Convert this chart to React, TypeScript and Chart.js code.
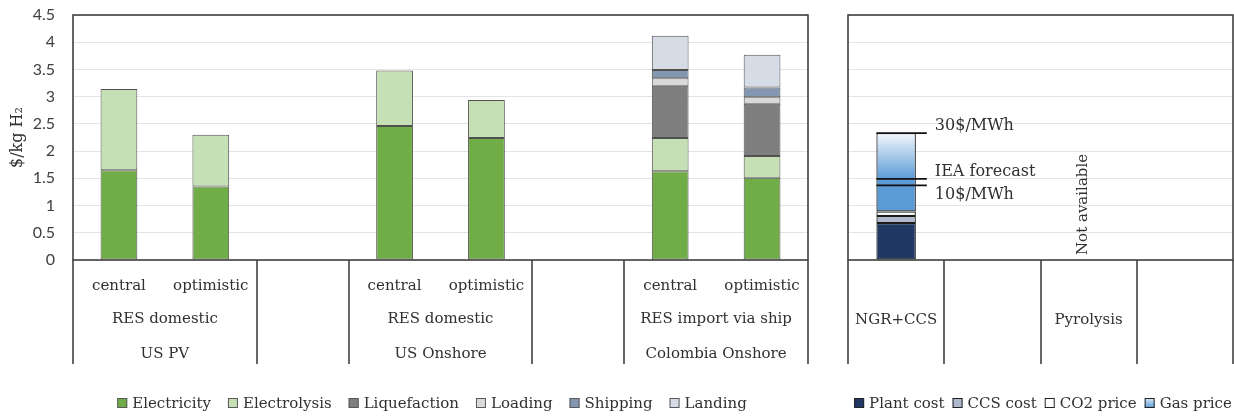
import React, { useEffect, useRef } from "react";
import { Chart, registerables } from "chart.js";

Chart.register(...registerables);

const SERIF = "'DejaVu Serif', 'Liberation Serif', serif";
const SANS = "Lato, 'Liberation Sans', sans-serif";
const TEXT = "#303030";
const FRAME = "#404040";
const GRID = "#e4e4e4";

// ---------- shared value axis ----------
const yMin = 0;
const yMax = 4.5;
const yStep = 0.5;
const yTitle = "$/kg H₂";

// ---------- left panel: electrolysis pathways ----------
const scenarios = ["central", "optimistic", "", "central", "optimistic", "", "central", "optimistic"];
const pathwayLabels = ["RES domestic", "RES domestic", "RES import via ship"];
const regionLabels = ["US PV", "US Onshore", "Colombia Onshore"];
const groupFirstSlot = [0, 3, 6];
const groupSpan = 2;
const leftDividerSlots = [0, 2, 3, 5, 6, 8];

const electricity = [1.65, 1.35, null, 2.46, 2.24, null, 1.63, 1.51];
const electrolysis = [1.49, 0.95, null, 1.02, 0.7, null, 0.61, 0.4];
const liquefaction = [null, null, null, null, null, null, 0.96, 0.96];
const loading = [null, null, null, null, null, null, 0.14, 0.12];
const shipping = [null, null, null, null, null, null, 0.15, 0.18];
const landing = [null, null, null, null, null, null, 0.63, 0.6];

const leftSeriesNames = ["Electricity", "Electrolysis", "Liquefaction", "Loading", "Shipping", "Landing"];
const leftColors = ["#70ad47", "#c5e0b4", "#7f7f7f", "#d9d9d9", "#8497b0", "#d6dce5"];

// ---------- right panel: fossil-based pathways ----------
const technologies = ["NGR+CCS", "", "Pyrolysis", ""];
const plantCost = [0.68, null, null, null];
const ccsCost = [0.13, null, null, null];
const co2Price = [0.08, null, null, null];
const gasPrice = [1.44, null, null, null];
const rightSeriesNames = ["Plant cost", "CCS cost", "CO2 price", "Gas price"];
const rightColors = ["#1f3864", "#adb9ca", "#ffffff", "#5b9bd5"];
const gasLight = "#f4f8fd";
const gasScenarioValues = [2.33, 1.49, 1.37];
const gasScenarioLabels = ["30$/MWh", "IEA forecast", "10$/MWh"];
const gasScenarioSide = [-1, -1, 1];
const unavailableIndex = 2;
const unavailableText = "Not available";

type LegendItem = { text: string; fill: string | "gradient"; stroke: string };

function drawLegend(ctx: CanvasRenderingContext2D, items: LegendItem[], cx: number, cy: number, gapItem: number) {
  ctx.save();
  ctx.font = `15px ${SERIF}`;
  const box = 10;
  const gapBox = 5;
  const widths = items.map((it) => box + gapBox + ctx.measureText(it.text).width);
  const total = widths.reduce((a, b) => a + b, 0) + gapItem * (items.length - 1);
  let x = cx - total / 2;
  items.forEach((it, i) => {
    const top = cy - box / 2;
    if (it.fill === "gradient") {
      const g = ctx.createLinearGradient(0, top, 0, top + box);
      g.addColorStop(0, "#dce9f7");
      g.addColorStop(1, rightColors[3]);
      ctx.fillStyle = g;
    } else {
      ctx.fillStyle = it.fill;
    }
    ctx.fillRect(x, top, box, box);
    ctx.strokeStyle = it.stroke;
    ctx.lineWidth = 1;
    ctx.strokeRect(x + 0.5, top + 0.5, box - 1, box - 1);
    ctx.fillStyle = TEXT;
    ctx.textAlign = "left";
    ctx.textBaseline = "middle";
    ctx.fillText(it.text, x + box + gapBox, cy + 1);
    x += widths[i] + gapItem;
  });
  ctx.restore();
}

function drawFrame(ctx: CanvasRenderingContext2D, a: any) {
  ctx.strokeStyle = FRAME;
  ctx.lineWidth = 1.6;
  ctx.strokeRect(a.left, a.top, a.right - a.left, a.bottom - a.top);
}

function vline(ctx: CanvasRenderingContext2D, x: number, y0: number, y1: number) {
  ctx.beginPath();
  ctx.moveTo(x, y0);
  ctx.lineTo(x, y1);
  ctx.stroke();
}

const zeroPadding = (s: any) => {
  s.paddingLeft = 0;
  s.paddingRight = 0;
  s.paddingTop = 0;
  s.paddingBottom = 0;
};

const leftPlugin = {
  id: "leftPanel",
  afterDraw(chart: any) {
    const { ctx, chartArea: a, scales } = chart;
    const x = scales.x;
    const slot = (a.right - a.left) / scenarios.length;
    ctx.save();
    drawFrame(ctx, a);
    ctx.lineWidth = 1.6;
    leftDividerSlots.forEach((s) => vline(ctx, Math.round(x.getPixelForValue(0) - slot / 2 + s * slot), a.bottom, a.bottom + 104));
    ctx.font = `15px ${SERIF}`;
    ctx.fillStyle = TEXT;
    ctx.textAlign = "center";
    ctx.textBaseline = "middle";
    groupFirstSlot.forEach((s, i) => {
      const cx = x.getPixelForValue(s) - slot / 2 + (groupSpan / 2) * slot;
      ctx.fillText(pathwayLabels[i], cx, a.bottom + 59);
      ctx.fillText(regionLabels[i], cx, a.bottom + 94);
    });
    ctx.restore();
    const items = chart.data.datasets.map((d: any) => ({ text: d.label, fill: d.backgroundColor, stroke: "#595959" }));
    drawLegend(ctx, items, 432, 403, 17);
  },
};

const rightPlugin = {
  id: "rightPanel",
  afterDraw(chart: any) {
    const { ctx, chartArea: a, scales } = chart;
    const x = scales.x;
    const y = scales.y;
    const slot = (a.right - a.left) / technologies.length;
    ctx.save();
    drawFrame(ctx, a);
    ctx.lineWidth = 1.6;
    for (let s = 0; s <= technologies.length; s++) {
      vline(ctx, Math.round(x.getPixelForValue(0) - slot / 2 + s * slot), a.bottom, a.bottom + 104);
    }
    // gas price scenario markers
    const bar = chart.getDatasetMeta(3).data[0];
    const bl = bar.x - bar.width / 2;
    const br = bar.x + bar.width / 2;
    ctx.strokeStyle = "#111111";
    ctx.lineWidth = 1.6;
    ctx.font = `16px ${SERIF}`;
    ctx.fillStyle = TEXT;
    ctx.textAlign = "left";
    ctx.textBaseline = "middle";
    gasScenarioValues.forEach((v, i) => {
      const py = y.getPixelForValue(v);
      ctx.beginPath();
      ctx.moveTo(bl, py);
      ctx.lineTo(br + 11, py);
      ctx.stroke();
      ctx.fillText(gasScenarioLabels[i], br + 19, py + (gasScenarioSide[i] < 0 ? -7 : 9));
    });
    // not available note
    ctx.save();
    ctx.translate(x.getPixelForValue(unavailableIndex) - 6, y.getPixelForValue(0) - 5);
    ctx.rotate(-Math.PI / 2);
    ctx.font = `15px ${SERIF}`;
    ctx.textAlign = "left";
    ctx.textBaseline = "middle";
    ctx.fillText(unavailableText, 0, 0);
    ctx.restore();
    ctx.restore();
    const items = chart.data.datasets.map((d: any, i: number) => ({
      text: d.label,
      fill: i === 3 ? "gradient" : d.backgroundColor,
      stroke: "#222222",
    }));
    drawLegend(ctx, items, 1043 - 828, 403, 8);
  },
};

function baseY(showLabels: boolean) {
  return {
    stacked: true,
    min: yMin,
    max: yMax,
    ticks: {
      display: showLabels,
      stepSize: yStep,
      callback: (v: any) => String(v),
      font: { family: SANS, size: 16 },
      color: "#404040",
      padding: 18,
    },
    grid: { color: GRID, lineWidth: 1, drawTicks: false },
    border: { display: false },
    title: {
      display: showLabels,
      text: yTitle,
      font: { family: SERIF, size: 16 },
      color: TEXT,
      padding: { top: 8, bottom: 0 },
    },
    afterFit: (s: any) => {
      s.width = showLabels ? 73 : 0;
      zeroPadding(s);
    },
  };
}

function baseX(tickPadding: number) {
  return {
    stacked: true,
    offset: true,
    grid: { display: false, drawTicks: false },
    border: { display: false },
    ticks: {
      font: { family: SERIF, size: 15 },
      color: TEXT,
      padding: tickPadding,
      autoSkip: false,
      maxRotation: 0,
    },
    afterFit: (s: any) => {
      s.height = 158;
      zeroPadding(s);
    },
  };
}

export default function App() {
  const leftRef = useRef<HTMLCanvasElement>(null);
  const rightRef = useRef<HTMLCanvasElement>(null);

  useEffect(() => {
    const leftSeries = [electricity, electrolysis, liquefaction, loading, shipping, landing];
    const left = new Chart(leftRef.current as HTMLCanvasElement, {
      type: "bar",
      data: {
        labels: scenarios,
        datasets: leftSeries.map((data, i) => ({
          label: leftSeriesNames[i],
          data,
          backgroundColor: leftColors[i],
          borderColor: "#505050",
          borderWidth: 1,
          borderSkipped: false,
          barPercentage: 0.4,
          categoryPercentage: 1,
        })),
      },
      options: {
        animation: false,
        responsive: true,
        maintainAspectRatio: false,
        layout: { padding: { top: 15, left: 0, right: 8, bottom: 0 } },
        plugins: { legend: { display: false }, tooltip: { enabled: false } },
        scales: { x: baseX(17) as any, y: baseY(true) as any },
      },
      plugins: [leftPlugin],
    });

    const total = plantCost[0]! + ccsCost[0]! + co2Price[0]! + gasPrice[0]!;
    const gasFill = (c: any) => {
      const chart = c.chart;
      if (!chart.chartArea) return rightColors[3];
      const ys = chart.scales.y;
      const g = chart.ctx.createLinearGradient(0, ys.getPixelForValue(total), 0, ys.getPixelForValue(gasScenarioValues[1]));
      g.addColorStop(0, gasLight);
      g.addColorStop(1, rightColors[3]);
      return g;
    };
    const rightSeries = [plantCost, ccsCost, co2Price, gasPrice];
    const right = new Chart(rightRef.current as HTMLCanvasElement, {
      type: "bar",
      data: {
        labels: technologies,
        datasets: rightSeries.map((data, i) => ({
          label: rightSeriesNames[i],
          data,
          backgroundColor: i === 3 ? gasFill : rightColors[i],
          borderColor: "#1a1a1a",
          borderWidth: 1.2,
          borderSkipped: false,
          barPercentage: 0.41,
          categoryPercentage: 1,
        })),
      },
      options: {
        animation: false,
        responsive: true,
        maintainAspectRatio: false,
        layout: { padding: { top: 15, left: 20, right: 1, bottom: 0 } },
        plugins: { legend: { display: false }, tooltip: { enabled: false } },
        scales: { x: baseX(51) as any, y: baseY(false) as any },
      },
      plugins: [rightPlugin],
    });

    return () => {
      left.destroy();
      right.destroy();
    };
  }, []);

  return (
    <div style={{ position: "fixed", left: 0, top: 0, width: 1234, height: 418, background: "#ffffff" }}>
      <div style={{ position: "absolute", left: 0, top: 0, width: 816, height: 418 }}>
        <canvas ref={leftRef} />
      </div>
      <div style={{ position: "absolute", left: 828, top: 0, width: 406, height: 418 }}>
        <canvas ref={rightRef} />
      </div>
    </div>
  );
}
